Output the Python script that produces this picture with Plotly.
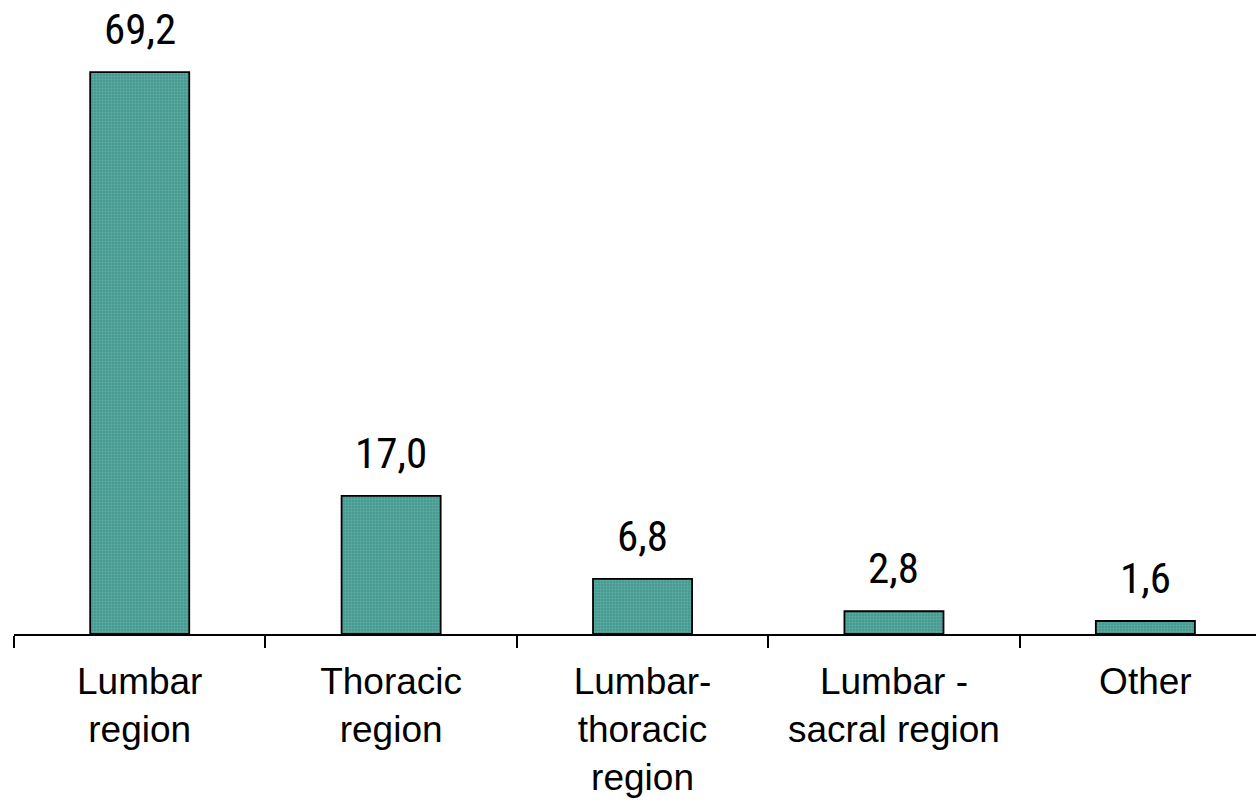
import plotly.graph_objects as go

# Distribution by spinal region (%)
categories = ["Lumbar<br>region", "Thoracic<br>region", "Lumbar-<br>thoracic<br>region",
              "Lumbar -<br>sacral region", "Other"]
values = [69.2, 17.0, 6.8, 2.8, 1.6]
value_labels = ["69,2", "17,0", "6,8", "2,8", "1,6"]

fig = go.Figure()
fig.add_trace(go.Bar(
    x=categories,
    y=values,
    marker=dict(
        color="#4e9f96",
        line=dict(color="black", width=1.8),
        pattern=dict(shape=".", fgcolor="#7cc0b8", bgcolor="#3f968c", size=3, solidity=0.5),
    ),
    hoverinfo="skip",
))

for cat, val, lab in zip(categories, values, value_labels):
    fig.add_annotation(
        x=cat, y=val, text=lab, showarrow=False,
        yanchor="bottom", yshift=16,
        font=dict(family="Liberation Sans Narrow, Arial Narrow, Roboto Condensed, sans-serif",
                  size=43, color="black"),
    )

fig.update_layout(
    width=1256, height=805,
    margin=dict(l=14, r=0, t=0, b=171),
    plot_bgcolor="white", paper_bgcolor="white",
    bargap=0.606,
    showlegend=False,
    font=dict(family="Liberation Sans, Arial, sans-serif", size=37, color="black"),
)
fig.update_xaxes(
    type="category",
    range=[-0.5, 4.44],
    showline=True, linecolor="black", linewidth=1.5,
    ticks="outside", tickson="boundaries", ticklen=12, tickwidth=1.5, tickcolor="black",
    ticklabelstandoff=14,
    showgrid=False,
)
fig.update_yaxes(
    range=[0, 78.07],
    visible=False,
    showgrid=False,
    zeroline=False,
)

fig.write_html("out.html")
